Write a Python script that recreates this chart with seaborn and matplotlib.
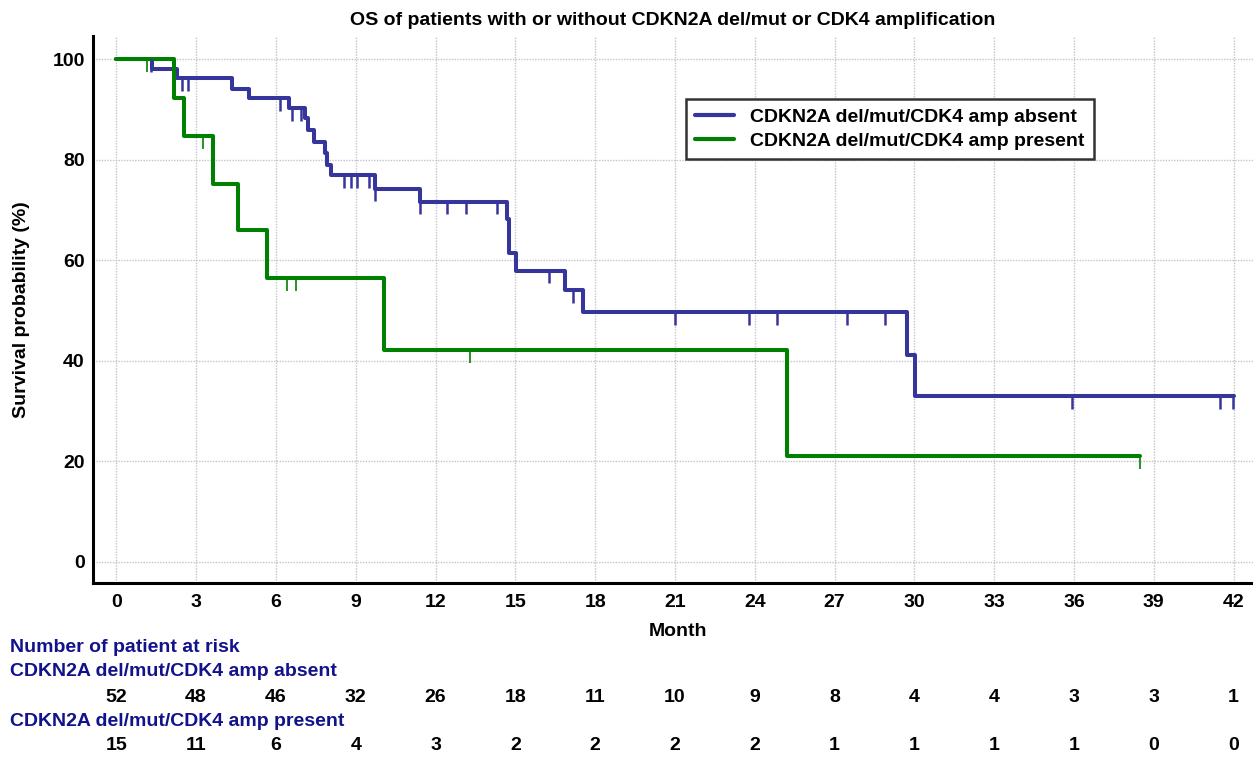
import numpy as np
import pandas as pd
import matplotlib
matplotlib.use("Agg")
import matplotlib.pyplot as plt
import matplotlib.transforms as mtransforms
from matplotlib.ticker import MultipleLocator
from matplotlib.lines import Line2D
import seaborn as sns

# Kaplan-Meier steps (month, survival %)
absent_time = [0, 1.34, 2.27, 4.35, 5.0, 6.51, 7.10, 7.20, 7.45, 7.83, 7.92, 8.08,
               9.71, 11.40, 14.67, 14.77, 15.04, 16.85, 17.54, 29.72, 30.03, 42.0]
absent_surv = [100, 98.1, 96.15, 94.1, 92.2, 90.2, 88.2, 85.8, 83.6, 81.4, 79.0, 76.9,
               74.2, 71.6, 68.2, 61.4, 57.9, 54.0, 49.6, 41.1, 32.9, 32.9]
absent_censor = [1.30, 2.47, 2.70, 6.17, 6.60, 6.93, 8.55, 8.82, 9.06, 9.50, 9.73,
                 11.42, 12.45, 13.16, 14.31, 16.25, 17.16, 17.50, 20.99, 23.80, 24.83,
                 27.47, 28.88, 35.92, 41.49, 41.96]

present_time = [0, 2.18, 2.56, 3.65, 4.59, 5.66, 10.05, 25.23, 38.5]
present_surv = [100, 92.3, 84.7, 75.2, 65.9, 56.4, 42.1, 21.0, 21.0]
present_censor = [1.14, 3.25, 6.41, 6.74, 13.29, 38.5]

risk_months = [0, 3, 6, 9, 12, 15, 18, 21, 24, 27, 30, 33, 36, 39, 42]
risk_absent = [52, 48, 46, 32, 26, 18, 11, 10, 9, 8, 4, 4, 3, 3, 1]
risk_present = [15, 11, 6, 4, 3, 2, 2, 2, 2, 1, 1, 1, 1, 0, 0]

label_absent = "CDKN2A del/mut/CDK4 amp absent"
label_present = "CDKN2A del/mut/CDK4 amp present"
blue = "#35359c"
green = "#008000"
navy = "#12128a"

sns.set_style("white")
plt.rcParams['font.family'] = ['Liberation Sans', 'DejaVu Sans']
plt.rcParams['font.weight'] = 'bold'
plt.rcParams['axes.labelweight'] = 'bold'
plt.rcParams['text.color'] = 'black'
plt.rcParams['axes.labelcolor'] = 'black'
plt.rcParams['xtick.color'] = 'black'
plt.rcParams['ytick.color'] = 'black'

W, H = 1253, 760
fig = plt.figure(figsize=(W / 100, H / 100), dpi=100)
ax = fig.add_axes([93 / W, 1 - 583 / H, 1160 / W, 547 / H])

df = pd.concat([
    pd.DataFrame({'month': absent_time, 'surv': absent_surv, 'group': label_absent}),
    pd.DataFrame({'month': present_time, 'surv': present_surv, 'group': label_present}),
])
palette = {label_absent: blue, label_present: green}

ax.grid(True, which='major', linestyle=(0, (1, 1)), color='#c4c4c4', linewidth=1.0)
ax.set_axisbelow(True)

sns.lineplot(data=df, x='month', y='surv', hue='group', palette=palette,
             estimator=None, sort=False, drawstyle='steps-post', linewidth=2.9,
             legend=False, ax=ax)


def level_at(times, surv, t):
    idx = np.searchsorted(times, t, side='right') - 1
    return np.asarray(surv)[idx]


# censor marks hang under the curve
tick_len = 2.5
for times, surv, cens, col, lw in [(absent_time, absent_surv, absent_censor, blue, 1.8),
                                   (present_time, present_surv, present_censor, green, 1.2)]:
    lv = level_at(times, surv, np.array(cens))
    ax.vlines(cens, lv - tick_len, lv, color=col, linewidth=lw, zorder=3)

ax.set_xlim(-0.876, 42.73)
ax.set_ylim(-4.24, 104.6)
ax.xaxis.set_major_locator(MultipleLocator(3))
ax.xaxis.set_minor_locator(MultipleLocator(1.5))
ax.yaxis.set_major_locator(MultipleLocator(20))
ax.yaxis.set_minor_locator(MultipleLocator(10))

sns.despine(ax=ax)
for s in ['left', 'bottom']:
    ax.spines[s].set_linewidth(2.2)
    ax.spines[s].set_color('black')

ax.tick_params(axis='x', which='major', direction='in', length=13, width=2.2,
               color='#333333', labelcolor='black', pad=8, labelsize=14)
ax.tick_params(axis='x', which='minor', direction='in', length=7, width=1.0, color='#444444')
ax.tick_params(axis='y', which='major', direction='in', length=15, width=2.2,
               color='#333333', labelcolor='black', pad=6, labelsize=14)
ax.tick_params(axis='y', which='minor', direction='in', length=7, width=1.0, color='#444444')
for lab in ax.get_xticklabels() + ax.get_yticklabels():
    lab.set_fontweight('bold')

ax.set_xlabel("Month", fontsize=14, fontweight='bold', color='black')
ax.xaxis.set_label_coords(0.504, -0.073)
ax.set_ylabel("Survival probability (%)", fontsize=14, fontweight='bold', color='black')
ax.yaxis.set_label_coords(-0.054, 0.5)
ax.set_title("OS of patients with or without CDKN2A del/mut or CDK4 amplification",
             fontsize=14, fontweight='bold', color='black', pad=8)

handles = [Line2D([], [], color=blue, linewidth=3), Line2D([], [], color=green, linewidth=3)]
leg = ax.legend(handles, [label_absent, label_present], loc='upper left',
                bbox_to_anchor=(0.511, 0.885), borderaxespad=0, frameon=True, fancybox=False,
                prop={'size': 14, 'weight': 'bold'}, handlelength=2.0,
                handletextpad=0.8, labelspacing=0.3, borderpad=0.5, framealpha=1)
leg.get_frame().set_edgecolor('#333333')
leg.get_frame().set_linewidth(1.8)
for t in leg.get_texts():
    t.set_color('black')

# number at risk table
trans = mtransforms.blended_transform_factory(ax.transData, fig.transFigure)
fig.text(10 / W, 1 - 648 / H, "Number of patient at risk", color=navy, fontsize=14,
         fontweight='bold', va='center', ha='left')
fig.text(10 / W, 1 - 672 / H, label_absent, color=navy, fontsize=14,
         fontweight='bold', va='center', ha='left')
fig.text(10 / W, 1 - 721 / H, label_present, color=navy, fontsize=14,
         fontweight='bold', va='center', ha='left')
for m, a, p in zip(risk_months, risk_absent, risk_present):
    ax.text(m, 1 - 697 / H, str(a), transform=trans, ha='center', va='center',
            fontsize=14, fontweight='bold', color='black')
    ax.text(m, 1 - 746 / H, str(p), transform=trans, ha='center', va='center',
            fontsize=14, fontweight='bold', color='black')

fig.savefig("out.png", dpi=100)
